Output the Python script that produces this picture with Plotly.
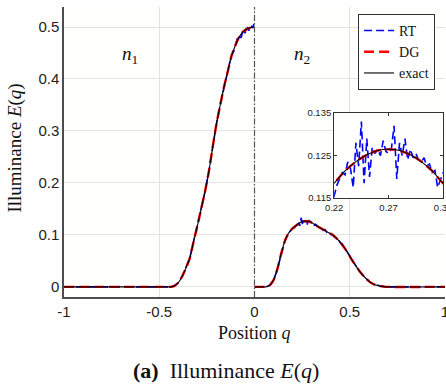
import plotly.graph_objects as go

# ---------------- data ----------------
# exact solution, left medium (n1)
q_exact_left = [-1.0, -0.46, -0.44, -0.42, -0.40, -0.38, -0.36, -0.34, -0.32, -0.30,
                -0.28, -0.26, -0.24, -0.22, -0.20, -0.18, -0.16, -0.14, -0.12, -0.10,
                -0.08, -0.06, -0.04, -0.02, 0.0]
E_exact_left = [0.0, 0.0, 0.0, 0.002, 0.008, 0.020, 0.036, 0.055, 0.087, 0.117,
                0.150, 0.183, 0.221, 0.268, 0.313, 0.350, 0.385, 0.415, 0.445, 0.465,
                0.481, 0.491, 0.496, 0.499, 0.500]
# exact solution, right medium (n2)
q_exact_right = [0.0, 0.04, 0.06, 0.08, 0.10, 0.12, 0.14, 0.16, 0.18, 0.20,
                 0.22, 0.23, 0.24, 0.25, 0.26, 0.27, 0.28, 0.29, 0.30, 0.31, 0.32,
                 0.34, 0.36, 0.38, 0.40, 0.42, 0.44, 0.46, 0.48, 0.50, 0.52, 0.54,
                 0.56, 0.58, 0.60, 0.62, 0.64, 0.66, 0.68, 0.70, 1.0]
E_exact_right = [0.0, 0.0, 0.0, 0.003, 0.013, 0.034, 0.064, 0.089, 0.104, 0.1125,
                 0.1185, 0.1214, 0.1236, 0.1252, 0.1262, 0.1265, 0.1262, 0.1252, 0.1236, 0.1214, 0.1185,
                 0.1145, 0.1105, 0.1063, 0.102, 0.097, 0.090, 0.081, 0.071, 0.059, 0.047, 0.036,
                 0.026, 0.018, 0.011, 0.006, 0.003, 0.0015, 0.0005, 0.0, 0.0]

# DG solution (indistinguishable from the exact one in the picture)
q_dg_left = q_exact_left
E_dg_left = E_exact_left
q_dg_right = q_exact_right
E_dg_right = E_exact_right

# RT (ray tracing) solution, noisy
q_rt_left = [-1.0, -0.46, -0.44, -0.42, -0.40, -0.38, -0.36, -0.34, -0.32, -0.30,
             -0.28, -0.26, -0.24, -0.22, -0.20, -0.18, -0.16, -0.14, -0.13, -0.12,
             -0.11, -0.10, -0.09, -0.08, -0.07, -0.06, -0.05, -0.04, -0.03, -0.02,
             -0.01, -0.003]
E_rt_left = [0.0, 0.0, 0.0, 0.002, 0.008, 0.020, 0.036, 0.055, 0.087, 0.117,
             0.150, 0.183, 0.221, 0.268, 0.313, 0.350, 0.385, 0.418, 0.432, 0.447,
             0.452, 0.466, 0.478, 0.483, 0.479, 0.495, 0.488, 0.503, 0.493, 0.505,
             0.498, 0.506]
q_rt_right = [0.003, 0.04, 0.06, 0.08, 0.10, 0.12, 0.14, 0.16, 0.18, 0.19, 0.20, 0.21,
              0.2175, 0.22, 0.2225, 0.225, 0.2275, 0.23, 0.2325, 0.235, 0.2375, 0.24,
              0.2425, 0.245, 0.2475, 0.25, 0.2525, 0.255, 0.2575, 0.26, 0.2625, 0.265,
              0.2675, 0.27, 0.2725, 0.275, 0.2775, 0.28, 0.2825, 0.285, 0.2875, 0.29,
              0.2925, 0.295, 0.2975, 0.30, 0.3025, 0.305, 0.3075, 0.31, 0.3125, 0.315,
              0.3175, 0.32, 0.3225, 0.33, 0.34, 0.35, 0.36, 0.37, 0.38, 0.39, 0.40,
              0.41, 0.42, 0.43, 0.44, 0.45, 0.46, 0.48, 0.50, 0.52, 0.54, 0.56, 0.58,
              0.60, 0.62, 0.64, 0.66, 0.68, 0.70, 1.0]
E_rt_right = [0.0, 0.0, 0.0, 0.003, 0.013, 0.034, 0.064, 0.089, 0.104, 0.108, 0.1125, 0.114,
              0.1135, 0.1155, 0.1180, 0.1195, 0.1210, 0.1205, 0.1235, 0.1220, 0.1175, 0.1280,
              0.1225, 0.1330, 0.1185, 0.1290, 0.1200, 0.1270, 0.1255, 0.1265, 0.1250, 0.1285,
              0.1260, 0.1255, 0.1265, 0.1320, 0.1195, 0.1280, 0.1250, 0.1290, 0.1240, 0.1265,
              0.1245, 0.1255, 0.1240, 0.1235, 0.1245, 0.1225, 0.1230, 0.1210, 0.1215, 0.1175,
              0.1195, 0.1210, 0.1195, 0.1180, 0.1135, 0.1145, 0.1090, 0.1105, 0.1050, 0.1055, 0.1005,
              0.1012, 0.0955, 0.0945, 0.0915, 0.0850, 0.0830, 0.071, 0.059, 0.047, 0.036, 0.026, 0.018,
              0.011, 0.006, 0.003, 0.0015, 0.0005, 0.0, 0.0]

x_ticks = [-1, -0.5, 0, 0.5, 1]
x_ticklabels = ["-1", "-0.5", "0", "0.5", "1"]
y_ticks = [0, 0.1, 0.2, 0.3, 0.4, 0.5]
y_ticklabels = ["0", "0.1", "0.2", "0.3", "0.4", "0.5"]
inset_x_ticks = [0.22, 0.27, 0.32]
inset_x_ticklabels = ["0.22", "0.27", "0.32"]
inset_y_ticks = [0.115, 0.125, 0.135]
inset_y_ticklabels = ["0.115", "0.125", "0.135"]

series_names = ["RT", "DG", "exact"]

# ---------------- figure ----------------
def join(a, b):
    return list(a) + [None] + list(b)

q_rt = join(q_rt_left, q_rt_right)
E_rt = join(E_rt_left, E_rt_right)
q_dg = join(q_dg_left, q_dg_right)
E_dg = join(E_dg_left, E_dg_right)
q_ex = join(q_exact_left, q_exact_right)
E_ex = join(E_exact_left, E_exact_right)

BLUE = "#0000ff"
RED = "#ff0000"
BLACK = "#000000"
SERIF = "Liberation Serif, Times New Roman, serif"
SANS = "Liberation Sans, Arial, sans-serif"

fig = go.Figure()
for xa, ya, show in [("x", "y", True), ("x2", "y2", False)]:
    fig.add_trace(go.Scatter(x=q_rt, y=E_rt, mode="lines", name=series_names[0],
                             line=dict(color=BLUE, width=1.6, dash="8px,4px"),
                             xaxis=xa, yaxis=ya, showlegend=show, connectgaps=False))
    fig.add_trace(go.Scatter(x=q_dg, y=E_dg, mode="lines", name=series_names[1],
                             line=dict(color=RED, width=2.4, dash="10px,5px", shape="spline", smoothing=0.6),
                             xaxis=xa, yaxis=ya, showlegend=show, connectgaps=False))
    fig.add_trace(go.Scatter(x=q_ex, y=E_ex, mode="lines", name=series_names[2],
                             line=dict(color=BLACK, width=1.1, shape="spline", smoothing=0.6),
                             xaxis=xa, yaxis=ya, showlegend=show, connectgaps=False))

AXIS_LINE = "#4d4d4d"
GRID = "#e3e3e3"

fig.update_layout(
    width=446, height=384,
    margin=dict(l=64, r=1, t=7, b=87, autoexpand=False),
    paper_bgcolor="white",
    plot_bgcolor="rgb(255,255,254)",
    showlegend=True,
    legend=dict(x=0.974, y=0.976, xanchor="right", yanchor="top",
                bgcolor="white", bordercolor="#333333", borderwidth=1,
                font=dict(family=SERIF, size=14, color="#111111"),
                itemwidth=30, tracegroupgap=0),
    xaxis=dict(domain=[0, 1], range=[-1, 1], tickvals=x_ticks, ticktext=x_ticklabels,
               showgrid=True, gridcolor=GRID, gridwidth=1, zeroline=False,
               showline=True, linecolor=AXIS_LINE, linewidth=1.5, ticks="",
               ticklabeloverflow="allow", automargin=False,
               tickfont=dict(family=SANS, size=15, color="#222222")),
    yaxis=dict(domain=[0, 1], range=[-0.0195, 0.5385], tickvals=y_ticks, ticktext=y_ticklabels,
               showgrid=True, gridcolor=GRID, gridwidth=1, zeroline=False,
               showline=True, linecolor=AXIS_LINE, linewidth=1.5, ticks="",
               ticklabeloverflow="allow", automargin=False,
               tickfont=dict(family=SANS, size=15, color="#222222")),
    xaxis2=dict(domain=[0.709, 0.995], anchor="y2", range=[0.22, 0.32],
                tickvals=inset_x_ticks, ticktext=inset_x_ticklabels,
                showgrid=False, zeroline=False, showline=True, mirror="ticks",
                linecolor="#333333", linewidth=1, ticks="inside", ticklen=3, tickcolor="#333333",
                ticklabeloverflow="allow", automargin=False,
                tickfont=dict(family=SANS, size=9.5, color="#222222")),
    yaxis2=dict(domain=[0.341, 0.634], anchor="x2", range=[0.115, 0.135],
                tickvals=inset_y_ticks, ticktext=inset_y_ticklabels,
                showgrid=False, zeroline=False, showline=True, mirror="ticks",
                linecolor="#333333", linewidth=1, ticks="inside", ticklen=3, tickcolor="#333333",
                ticklabeloverflow="allow", automargin=False,
                tickfont=dict(family=SANS, size=9.5, color="#222222")),
)

# interface at q = 0
fig.add_shape(type="line", xref="x", yref="y domain", x0=0, x1=0, y0=0, y1=1,
              line=dict(color="#555555", width=1.2, dash="6px,2px,1.5px,2px"))

ann_font = dict(family=SERIF, color="#111111")
fig.add_annotation(x=-0.653, y=0.446, xref="x", yref="y", showarrow=False,
                   text="<i>n</i><sub>1</sub>", font=dict(size=19, **ann_font))
fig.add_annotation(x=0.25, y=0.446, xref="x", yref="y", showarrow=False,
                   text="<i>n</i><sub>2</sub>", font=dict(size=19, **ann_font))
fig.add_annotation(x=-0.131, y=0.512, xref="paper", yref="paper", showarrow=False,
                   text="Illuminance <i>E</i>(<i>q</i>)", textangle=-90,
                   xanchor="center", yanchor="middle", font=dict(size=19, **ann_font))
fig.add_annotation(x=0.4987, y=-0.124, xref="paper", yref="paper", showarrow=False,
                   text="Position <i>q</i>", xanchor="center", yanchor="middle",
                   font=dict(size=18, **ann_font))
fig.add_annotation(x=0.425, y=-0.252, xref="paper", yref="paper", showarrow=False,
                   text="<b>(a)</b>  Illuminance <i>E</i>(<i>q</i>)", xanchor="center", yanchor="middle",
                   font=dict(size=22, **ann_font))

fig.write_html("out.html")
